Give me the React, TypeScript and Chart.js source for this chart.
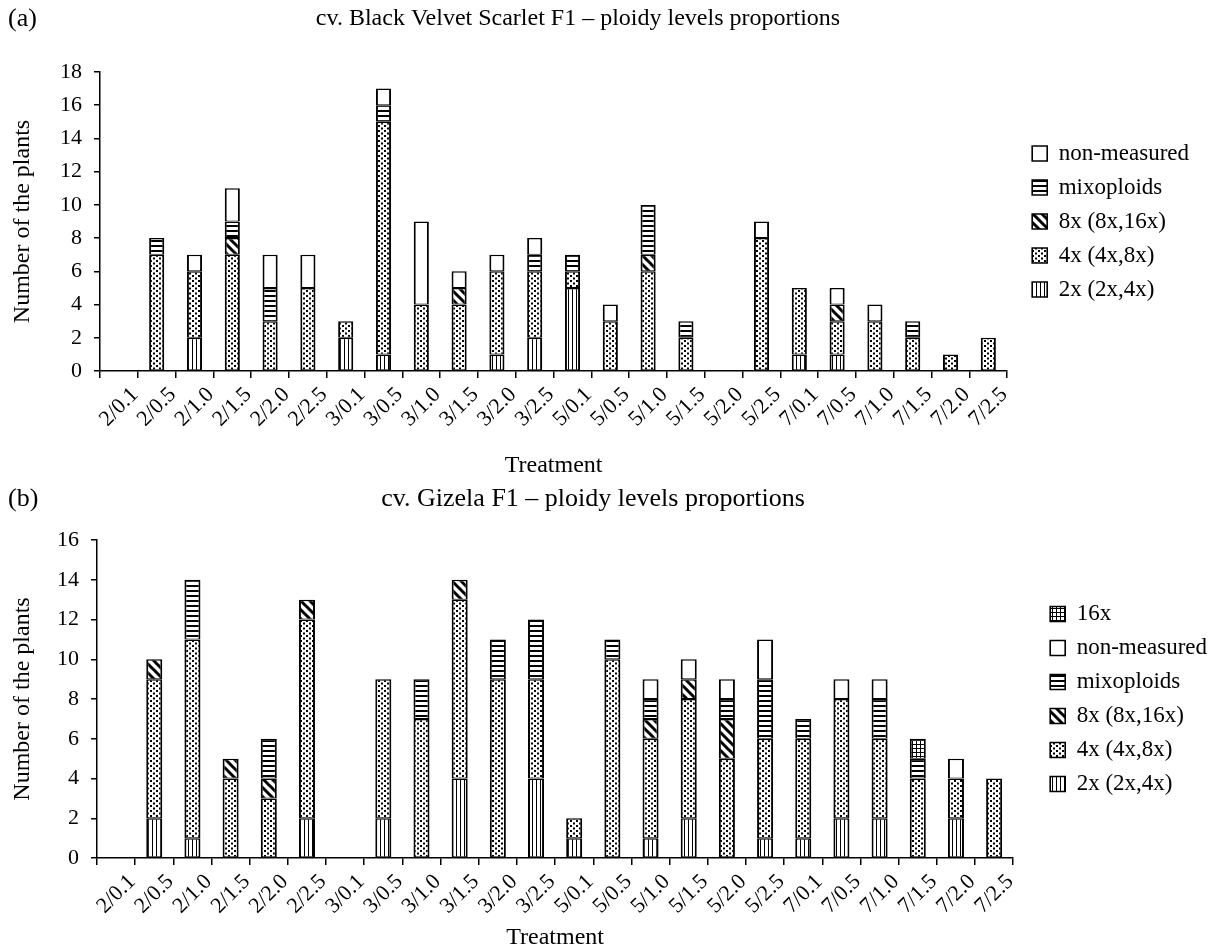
import React, { useEffect, useRef } from 'react';
import { Chart, registerables } from 'chart.js';

Chart.register(...registerables);

const FONT = '"Liberation Serif", "Times New Roman", serif';

// ---------- data ----------
const categories = [
  '2/0.1', '2/0.5', '2/1.0', '2/1.5', '2/2.0', '2/2.5',
  '3/0.1', '3/0.5', '3/1.0', '3/1.5', '3/2.0', '3/2.5',
  '5/0.1', '5/0.5', '5/1.0', '5/1.5', '5/2.0', '5/2.5',
  '7/0.1', '7/0.5', '7/1.0', '7/1.5', '7/2.0', '7/2.5',
];

// (a) cv. Black Velvet Scarlet F1
const a2x = [0, 0, 2, 0, 0, 0, 2, 1, 0, 0, 1, 2, 5, 0, 0, 0, 0, 0, 1, 1, 0, 0, 0, 0];
const a4x = [0, 7, 4, 7, 3, 5, 1, 14, 4, 4, 5, 4, 1, 3, 6, 2, 0, 8, 4, 2, 3, 2, 1, 2];
const a8x = [0, 0, 0, 1, 0, 0, 0, 0, 0, 1, 0, 0, 0, 0, 1, 0, 0, 0, 0, 1, 0, 0, 0, 0];
const aMixoploids = [0, 1, 0, 1, 2, 0, 0, 1, 0, 0, 0, 1, 1, 0, 3, 1, 0, 0, 0, 0, 0, 1, 0, 0];
const aNonMeasured = [0, 0, 1, 2, 2, 2, 0, 1, 5, 1, 1, 1, 0, 1, 0, 0, 0, 1, 0, 1, 1, 0, 0, 0];

// (b) cv. Gizela F1
const b2x = [0, 2, 1, 0, 0, 2, 0, 2, 0, 4, 0, 4, 1, 0, 1, 2, 0, 1, 1, 2, 2, 0, 2, 0];
const b4x = [0, 7, 10, 4, 3, 10, 0, 7, 7, 9, 9, 5, 1, 10, 5, 6, 5, 5, 5, 6, 4, 4, 2, 4];
const b8x = [0, 1, 0, 1, 1, 1, 0, 0, 0, 1, 0, 0, 0, 0, 1, 1, 2, 0, 0, 0, 0, 0, 0, 0];
const bMixoploids = [0, 0, 3, 0, 2, 0, 0, 0, 2, 0, 2, 3, 0, 1, 1, 0, 1, 3, 1, 0, 2, 1, 0, 0];
const bNonMeasured = [0, 0, 0, 0, 0, 0, 0, 0, 0, 0, 0, 0, 0, 0, 1, 1, 1, 2, 0, 1, 1, 0, 1, 0];
const b16x = [0, 0, 0, 0, 0, 0, 0, 0, 0, 0, 0, 0, 0, 0, 0, 0, 0, 0, 0, 0, 0, 1, 0, 0];

const titleA = 'cv. Black Velvet Scarlet F1 \u2013 ploidy levels proportions';
const titleB = 'cv. Gizela F1 \u2013 ploidy levels proportions';
const yMaxA = 18;
const yMaxB = 16;
const yStep = 2;

// ---------- patterns ----------
function tile(w: number, h: number, draw: (ctx: CanvasRenderingContext2D) => void) {
  const c = document.createElement('canvas');
  c.width = w;
  c.height = h;
  const ctx = c.getContext('2d') as CanvasRenderingContext2D;
  ctx.fillStyle = '#ffffff';
  ctx.fillRect(0, 0, w, h);
  ctx.fillStyle = '#000000';
  ctx.strokeStyle = '#000000';
  draw(ctx);
  const ref = document.createElement('canvas').getContext('2d') as CanvasRenderingContext2D;
  return ref.createPattern(c, 'repeat') as CanvasPattern;
}

function makePatterns() {
  return {
    vlines: tile(4, 4, (ctx) => ctx.fillRect(0, 0, 1, 4)),
    dots: tile(6, 5, (ctx) => {
      ctx.fillRect(0, 0, 2, 2);
      ctx.fillRect(3, 2.5, 2, 2);
    }),
    diag: tile(9, 9, (ctx) => {
      ctx.lineWidth = 3;
      for (let k = -1; k <= 1; k++) {
        ctx.beginPath();
        ctx.moveTo(-2, -2 + 9 * k);
        ctx.lineTo(11, 11 + 9 * k);
        ctx.stroke();
      }
    }),
    hlines: tile(4, 5, (ctx) => ctx.fillRect(0, 0, 4, 2)),
    grid: tile(4, 4, (ctx) => {
      ctx.fillRect(0, 0, 4, 1);
      ctx.fillRect(0, 0, 1, 4);
    }),
  };
}

const toData = (arr: number[]) => arr.map((v) => (v === 0 ? null : v));

function ds(label: string, arr: number[], bg: any, barPct: number) {
  return {
    label,
    data: toData(arr),
    backgroundColor: bg,
    borderColor: '#000000',
    borderWidth: { left: 2, right: 2, top: 1.5, bottom: 1 },
    borderSkipped: false,
    barPercentage: barPct,
    categoryPercentage: 1,
  };
}

function headerTexts(corner: string, title: string, titleSize: number, titleX: number, y: number) {
  return {
    id: 'headerTexts',
    afterDraw(chart: any) {
      const ctx = chart.ctx;
      ctx.save();
      ctx.fillStyle = '#000';
      ctx.textBaseline = 'middle';
      ctx.font = `26px ${FONT}`;
      ctx.textAlign = 'left';
      ctx.fillText(corner, 8, y);
      ctx.font = `${titleSize}px ${FONT}`;
      ctx.textAlign = 'center';
      ctx.fillText(title, titleX, y);
      ctx.restore();
    },
  };
}

function buildConfig(p: {
  datasets: any[];
  title: string;
  titleSize: number;
  titleX: number;
  corner: string;
  yMax: number;
  yAxisWidth: number;
  top: number;
  xHeight: number;
  gap: number;
  padRight: number;
}) {
  const tickFont = { family: FONT, size: 22 };
  const axisTitleFont = { family: FONT, size: 24 };
  return {
    type: 'bar' as const,
    data: { labels: categories, datasets: p.datasets },
    plugins: [headerTexts(p.corner, p.title, p.titleSize, p.titleX, 19)],
    options: {
      responsive: false,
      animation: false,
      events: [],
      layout: { padding: { left: 0, right: p.padRight, top: p.top, bottom: 0 } },
      plugins: {
        tooltip: { enabled: false },
        title: { display: false },
        legend: {
          position: 'right',
          fullSize: false,
          reverse: true,
          labels: {
            color: '#000',
            font: { family: FONT, size: 23 },
            boxWidth: 15,
            boxHeight: 15,
            padding: 11,
          },
        },
      },
      scales: {
        x: {
          stacked: true,
          grid: {
            display: true,
            drawOnChartArea: false,
            drawTicks: true,
            tickLength: 7,
            color: '#000',
            lineWidth: 1.5,
            offset: true,
          },
          border: { display: true, color: '#000', width: 1.5 },
          ticks: {
            autoSkip: false,
            maxRotation: 45,
            minRotation: 45,
            color: '#000',
            font: tickFont,
            padding: 4,
            labelOffset: 16,
          },
          title: {
            display: true,
            text: 'Treatment',
            color: '#000',
            font: axisTitleFont,
            padding: { top: 0, bottom: 0 },
          },
          afterFit: (s: any) => {
            s.height = p.xHeight;
          },
        },
        y: {
          stacked: true,
          min: 0,
          max: p.yMax,
          ticks: { stepSize: yStep, color: '#000', font: tickFont, padding: 12 },
          grid: {
            display: true,
            drawOnChartArea: false,
            drawTicks: true,
            tickLength: 6,
            color: '#000',
            lineWidth: 1.5,
          },
          border: { display: true, color: '#000', width: 1.5 },
          title: {
            display: true,
            text: 'Number of the plants',
            color: '#000',
            font: axisTitleFont,
            padding: { top: 8, bottom: 0 },
          },
          afterFit: (s: any) => {
            s.width = p.yAxisWidth;
          },
        },
        gapAxis: {
          type: 'linear',
          position: 'right',
          display: true,
          grid: { display: false },
          border: { display: false },
          ticks: { display: false },
          afterFit: (s: any) => {
            s.width = p.gap;
          },
        },
      },
    },
  };
}

export default function App() {
  const refA = useRef<HTMLCanvasElement>(null);
  const refB = useRef<HTMLCanvasElement>(null);

  useEffect(() => {
    Chart.defaults.font.family = FONT;
    const pat = makePatterns();
    const white = '#ffffff';
    const dsA = [
      ds('2x (2x,4x)', a2x, pat.vlines, 0.4),
      ds('4x (4x,8x)', a4x, pat.dots, 0.4),
      ds('8x (8x,16x)', a8x, pat.diag, 0.4),
      ds('mixoploids', aMixoploids, pat.hlines, 0.4),
      ds('non-measured', aNonMeasured, white, 0.4),
    ];
    const dsB = [
      ds('2x (2x,4x)', b2x, pat.vlines, 0.42),
      ds('4x (4x,8x)', b4x, pat.dots, 0.42),
      ds('8x (8x,16x)', b8x, pat.diag, 0.42),
      ds('mixoploids', bMixoploids, pat.hlines, 0.42),
      ds('non-measured', bNonMeasured, white, 0.42),
      ds('16x', b16x, pat.grid, 0.42),
    ];
    const ca = new Chart(
      refA.current as HTMLCanvasElement,
      buildConfig({
        datasets: dsA,
        title: titleA,
        titleSize: 24,
        titleX: 578,
        corner: '(a)',
        yMax: yMaxA,
        yAxisWidth: 100,
        top: 72,
        xHeight: 109,
        gap: 14,
        padRight: 18,
      }) as any
    );
    const cb = new Chart(
      refB.current as HTMLCanvasElement,
      buildConfig({
        datasets: dsB,
        title: titleB,
        titleSize: 26,
        titleX: 593,
        corner: '(b)',
        yMax: yMaxB,
        yAxisWidth: 97,
        top: 60,
        xHeight: 94,
        gap: 26,
        padRight: 0,
      }) as any
    );
    return () => {
      ca.destroy();
      cb.destroy();
    };
  }, []);

  return (
    <div
      style={{
        position: 'absolute',
        left: 0,
        top: 0,
        width: 1217,
        height: 952,
        background: '#ffffff',
      }}
    >
      <canvas ref={refA} width={1217} height={480} style={{ display: 'block' }} />
      <canvas ref={refB} width={1217} height={472} style={{ display: 'block' }} />
    </div>
  );
}
